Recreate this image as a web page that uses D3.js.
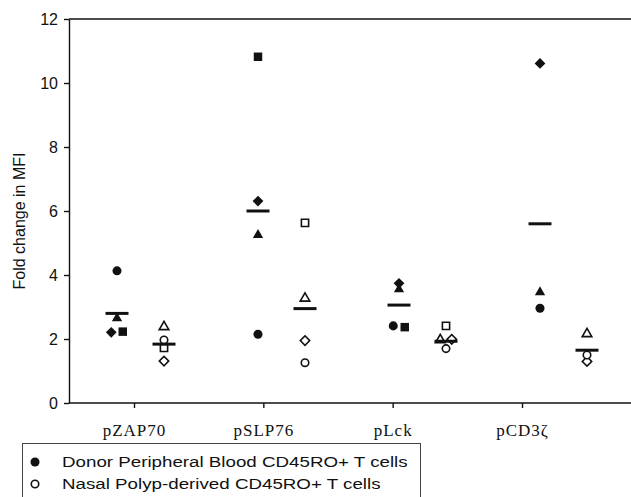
<!DOCTYPE html>
<html>
<head>
<meta charset="utf-8">
<script src="https://cdn.jsdelivr.net/npm/d3@7"></script>
<style>
  body { margin: 0; background: #fff; }
  svg { display: block; }
</style>
</head>
<body>
<svg id="chart" width="631" height="497"></svg>
<script>
// Fold change in MFI per phospho-protein, two T cell sources.
const categories = ["pZAP70", "pSLP76", "pLck", "pCD3ζ"];
const yTicks = [0, 2, 4, 6, 8, 10, 12];

// Donor peripheral blood (filled markers)
const donorCircle = [4.13, 2.15, 2.41, 2.96];
const donorSquare = [2.23, 10.82, 2.37, null];
const donorTriangle = [2.65, 5.25, 3.55, 3.46];
const donorDiamond = [2.21, 6.31, 3.74, 10.61];
const donorMean = [2.8, 6.0, 3.06, 5.6];

// Nasal polyp-derived (open markers)
const polypCircle = [1.97, 1.26, 1.70, 1.50];
const polypSquare = [1.72, 5.63, 2.41, null];
const polypTriangle = [2.38, 3.27, 1.97, 2.16];
const polypDiamond = [1.31, 1.95, 1.99, 1.30];
const polypMean = [1.84, 2.95, 1.93, 1.65];

const legendLabels = [
  "Donor Peripheral Blood CD45RO+ T cells",
  "Nasal Polyp-derived CD45RO+ T cells",
];

const svg = d3.select("#chart");
const INK = "#111";

const y = d3.scaleLinear().domain([0, 12]).range([403, 19]);
// tick labels sit on their own spacing, the data columns on another
const xTick = d3.scalePoint().domain(categories).range([134, 522]);
const xPos = d3.scaleLinear().domain([0, 3]).range([117, 540]);

const axisLeftX = 69;
const rightEdge = 631;

const shapes = {
  circle: { type: d3.symbolCircle, size: 64, rot: 0 },
  square: { type: d3.symbolSquare, size: 72, rot: 0 },
  triangle: { type: d3.symbolTriangle, size: 46, rot: 0 },
  diamond: { type: d3.symbolSquare, size: 58, rot: 45 },
};
const openShapes = {
  circle: { type: d3.symbolCircle, size: 44, rot: 0 },
  square: { type: d3.symbolSquare, size: 52, rot: 0 },
  triangle: { type: d3.symbolTriangle, size: 40, rot: 0 },
  diamond: { type: d3.symbolSquare, size: 44, rot: 45 },
};
const shapeOrder = ["triangle", "diamond", "circle", "square"];

const groups = [
  { offset: 0, filled: true, mean: donorMean,
    series: { circle: donorCircle, square: donorSquare, triangle: donorTriangle, diamond: donorDiamond } },
  { offset: 1 / 3, filled: false, mean: polypMean,
    series: { circle: polypCircle, square: polypSquare, triangle: polypTriangle, diamond: polypDiamond } },
];

// build points, dodge near-equal values sideways
const points = [];
groups.forEach((g) => {
  categories.forEach((c, i) => {
    const pts = [];
    for (const name of Object.keys(g.series)) {
      const v = g.series[name][i];
      if (v == null) continue;
      pts.push({ name, v, i, g });
    }
    pts.sort((a, b) => a.v - b.v);
    let cluster = [];
    const flush = () => {
      cluster.sort((a, b) => shapeOrder.indexOf(a.name) - shapeOrder.indexOf(b.name));
      cluster.forEach((p, k) => { p.dx = (k - (cluster.length - 1) / 2) * 11.5; });
      cluster = [];
    };
    pts.forEach((p) => {
      if (cluster.length && p.v - cluster[cluster.length - 1].v >= 0.1) flush();
      cluster.push(p);
    });
    flush();
    points.push(...pts);
  });
});

// axes
const gy = svg.append("g")
  .attr("transform", `translate(${axisLeftX},0)`)
  .call(d3.axisLeft(y).tickValues(yTicks).tickSize(5).tickSizeOuter(0).tickPadding(6));
gy.select(".domain").attr("stroke", INK).attr("stroke-width", 1.4);
gy.selectAll(".tick line").attr("stroke", INK).attr("stroke-width", 1.4);
gy.selectAll(".tick text")
  .attr("fill", INK)
  .style("font-family", "'Liberation Sans', Arial, sans-serif")
  .style("font-size", "16px");

// top frame line and bottom axis line run to the right edge
svg.append("line")
  .attr("x1", axisLeftX).attr("x2", rightEdge)
  .attr("y1", y(12)).attr("y2", y(12))
  .attr("stroke", INK).attr("stroke-width", 1.4);
svg.append("line")
  .attr("x1", axisLeftX).attr("x2", rightEdge)
  .attr("y1", y(0)).attr("y2", y(0))
  .attr("stroke", INK).attr("stroke-width", 1.4);

const gx = svg.append("g")
  .attr("transform", `translate(0,${y(0)})`)
  .call(d3.axisBottom(xTick).tickSize(5).tickSizeOuter(0));
gx.select(".domain").remove();
gx.selectAll(".tick line").attr("stroke", INK).attr("stroke-width", 1.4);
gx.selectAll(".tick text")
  .attr("fill", INK)
  .attr("y", 33)
  .attr("dy", 0)
  .style("font-family", "'Liberation Serif', 'Times New Roman', serif")
  .style("font-size", "17px")
  .style("letter-spacing", "1px");

svg.append("text")
  .attr("transform", `translate(25,${(y(0) + y(12)) / 2 + 10}) rotate(-90)`)
  .attr("text-anchor", "middle")
  .attr("fill", INK)
  .style("font-family", "'Liberation Sans', Arial, sans-serif")
  .style("font-size", "16px")
  .text("Fold change in MFI");

// markers
svg.append("g")
  .selectAll("path")
  .data(points)
  .join("path")
  .attr("d", (d) => {
    const s = (d.g.filled ? shapes : openShapes)[d.name];
    return d3.symbol(s.type, s.size)();
  })
  .attr("transform", (d) => {
    const s = (d.g.filled ? shapes : openShapes)[d.name];
    return `translate(${xPos(d.i + d.g.offset) + d.dx},${y(d.v)}) rotate(${s.rot})`;
  })
  .attr("fill", (d) => (d.g.filled ? INK : "#fff"))
  .attr("stroke", INK)
  .attr("stroke-width", (d) => (d.g.filled ? 0 : 1.6));

// mean bars
groups.forEach((g) => {
  svg.append("g")
    .selectAll("line")
    .data(g.mean)
    .join("line")
    .attr("x1", (d, i) => xPos(i + g.offset) - 11.5)
    .attr("x2", (d, i) => xPos(i + g.offset) + 11.5)
    .attr("y1", (d) => y(d))
    .attr("y2", (d) => y(d))
    .attr("stroke", INK)
    .attr("stroke-width", 3);
});

// legend
const lg = svg.append("g");
lg.append("rect")
  .attr("x", 22.5).attr("y", 443.5)
  .attr("width", 398).attr("height", 80)
  .attr("fill", "#fff")
  .attr("stroke", "#444");
legendLabels.forEach((label, k) => {
  const base = 467 + k * 22;
  lg.append("path")
    .attr("d", d3.symbol(d3.symbolCircle, k === 0 ? 64 : 44)())
    .attr("transform", `translate(35,${base - 5})`)
    .attr("fill", k === 0 ? INK : "#fff")
    .attr("stroke", INK)
    .attr("stroke-width", k === 0 ? 0 : 1.6);
  lg.append("text")
    .attr("transform", `translate(62,${base}) scale(1.25,1)`)
    .attr("fill", INK)
    .style("font-family", "'Liberation Sans', Arial, sans-serif")
    .style("font-size", "15px")
    .text(label);
});
</script>
</body>
</html>
